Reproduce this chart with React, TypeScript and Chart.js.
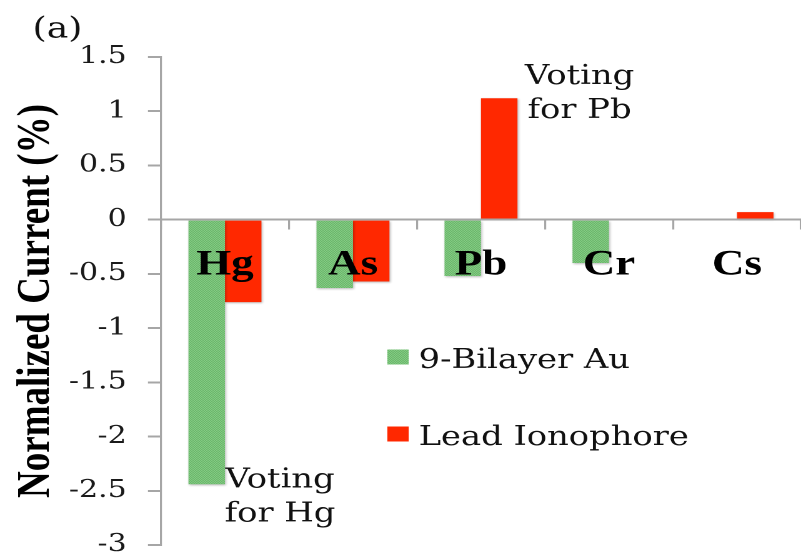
import React, { useEffect, useRef } from 'react';
import { Chart, registerables } from 'chart.js';

Chart.register(...registerables);

// ---- data ----
const categories = ['Hg', 'As', 'Pb', 'Cr', 'Cs'];
const bilayerAu = [-2.44, -0.63, -0.52, -0.4, 0];
const leadIonophore = [-0.76, -0.57, 1.12, 0, 0.07];
const seriesNames = ['9-Bilayer Au', 'Lead Ionophore'];
const yMin = -3;
const yMax = 1.5;
const yStep = 0.5;
const yTitle = 'Normalized Current (%)';
const panelLabel = '(a)';
const annotationLines = [
  ['Voting', 'for Pb'],
  ['Voting', 'for Hg'],
];
// [category index (fractional), value] of each annotation's centre
const annotationAnchors = [
  [2.77, 1.16],
  [0.43, -2.56],
];

// ---- rendering constants ----
const SX = 1.25; // horizontal stretch of the figure
const CSS_W = 801;
const CSS_H = 559;
const LOG_W = Math.round(CSS_W / SX);
const AXIS_COLOR = '#a6a6a6';
const RED = '#ff2800';

function makeGreenPattern(ctx: CanvasRenderingContext2D) {
  const c = document.createElement('canvas');
  c.width = 2;
  c.height = 2;
  const g = c.getContext('2d')!;
  g.fillStyle = '#aadcaa';
  g.fillRect(0, 0, 2, 2);
  g.fillStyle = '#45a645';
  g.fillRect(0, 0, 1, 1);
  g.fillRect(1, 1, 1, 1);
  return ctx.createPattern(c, 'repeat')!;
}

const shadowPlugin = {
  id: 'barShadow',
  beforeDatasetsDraw(chart: any) {
    const ctx = chart.ctx;
    ctx.save();
    ctx.shadowColor = 'rgba(0,0,0,0.28)';
    ctx.shadowBlur = 4;
    ctx.shadowOffsetX = 1.5;
    ctx.shadowOffsetY = 2;
  },
  afterDatasetsDraw(chart: any) {
    chart.ctx.restore();
  },
};

const extrasPlugin = {
  id: 'extras',
  afterDraw(chart: any) {
    const ctx = chart.ctx;
    const xs = chart.scales.x;
    const ys = chart.scales.y;
    ctx.save();
    ctx.fillStyle = '#111';
    // panel label
    ctx.font = '29px "DejaVu Serif"';
    ctx.textAlign = 'left';
    ctx.textBaseline = 'middle';
    ctx.fillText(panelLabel, 26, 30);

    // annotations
    ctx.font = '27px "DejaVu Serif"';
    ctx.textAlign = 'center';
    annotationLines.forEach((lines, i) => {
      const [ci, v] = annotationAnchors[i];
      const cx = xs.getPixelForValue(ci);
      const cy = ys.getPixelForValue(v);
      const step = 34;
      lines.forEach((t, j) => {
        ctx.fillText(t, cx, cy + (j - (lines.length - 1) / 2) * step);
      });
    });

    // legend
    const lx = 310;
    const ly = [357, 434];
    chart.data.datasets.forEach((ds: any, i: number) => {
      ctx.fillStyle = ds.backgroundColor;
      ctx.fillRect(lx, ly[i] - 7.5, 17, 15);
      ctx.fillStyle = '#111';
      ctx.textAlign = 'left';
      ctx.textBaseline = 'middle';
      ctx.font = '27px "DejaVu Serif"';
      ctx.fillText(ds.label, lx + 25, ly[i] + 4);
    });
    ctx.restore();
  },
};

export default function App() {
  const ref = useRef<HTMLCanvasElement>(null);

  useEffect(() => {
    document.body.style.margin = '0';
    const canvas = ref.current!;
    const ctx = canvas.getContext('2d')!;
    const green = makeGreenPattern(ctx);

    const chart = new Chart(canvas, {
      type: 'bar',
      data: {
        labels: categories,
        datasets: [
          {
            label: seriesNames[0],
            data: bilayerAu,
            backgroundColor: green as any,
            borderWidth: 0,
            categoryPercentage: 0.57,
            barPercentage: 1,
          },
          {
            label: seriesNames[1],
            data: leadIonophore,
            backgroundColor: RED,
            borderWidth: 0,
            categoryPercentage: 0.57,
            barPercentage: 1,
          },
        ],
      },
      options: {
        responsive: false,
        animation: false,
        devicePixelRatio: 2,
        layout: { padding: { top: 57, bottom: 14, left: 0, right: 0 } },
        plugins: {
          legend: { display: false },
          tooltip: { enabled: false },
          title: { display: false },
        },
        scales: {
          x: {
            type: 'category',
            position: { y: 0 } as any,
            grid: {
              offset: true,
              drawOnChartArea: false,
              drawTicks: true,
              tickLength: 9,
              color: AXIS_COLOR,
              lineWidth: 1.6,
              z: 1,
            },
            border: { display: true, color: AXIS_COLOR, width: 2, z: 1 },
            ticks: {
              z: 2,
              color: '#000',
              padding: 15,
              font: { family: '"Liberation Serif"', size: 36, weight: 'bold' },
              maxRotation: 0,
              autoSkip: false,
            },
          },
          y: {
            min: yMin,
            max: yMax,
            afterFit: (s: any) => {
              s.width = 161 / SX;
              s.paddingTop = 0;
              s.paddingBottom = 0;
            },
            grid: {
              drawOnChartArea: false,
              drawTicks: true,
              tickLength: 10.4,
              color: AXIS_COLOR,
              lineWidth: 2,
            },
            border: { display: true, color: AXIS_COLOR, width: 1.6 },
            ticks: {
              stepSize: yStep,
              color: '#1a1a1a',
              padding: 17,
              font: { family: '"DejaVu Serif"', size: 24 },
              callback: (v: any) => String(Number(Number(v).toFixed(1))),
            },
            title: {
              display: true,
              text: yTitle,
              color: '#000',
              padding: { top: 7, bottom: 0 },
              font: { family: '"Liberation Serif"', size: 37, weight: 'bold' },
            },
          },
        },
      },
      plugins: [shadowPlugin, extrasPlugin],
    });
    return () => chart.destroy();
  }, []);

  return (
    <div style={{ position: 'absolute', left: 0, top: 0, width: CSS_W, height: CSS_H, background: '#fff' }}>
      <canvas
        ref={ref}
        width={LOG_W}
        height={CSS_H}
        style={{ width: CSS_W + 'px', height: CSS_H + 'px', display: 'block' }}
      />
    </div>
  );
}
